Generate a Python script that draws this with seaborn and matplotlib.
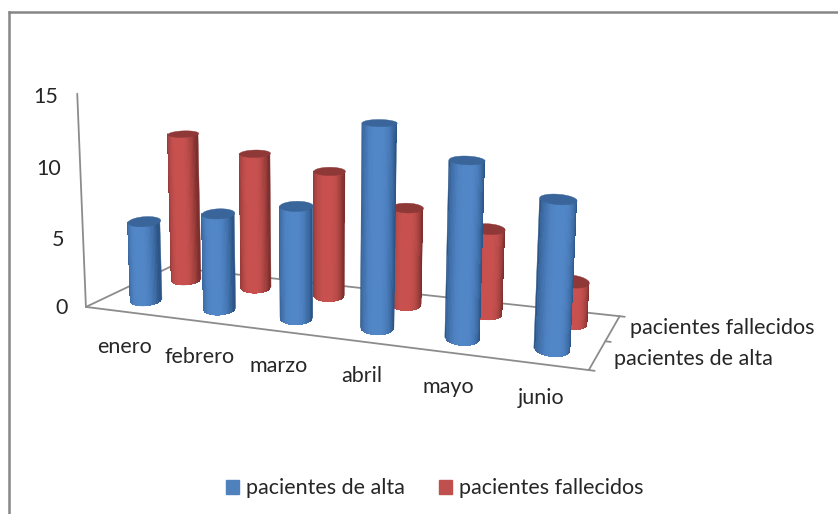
import numpy as np
import matplotlib
matplotlib.use("Agg")
import matplotlib.pyplot as plt
import seaborn as sns
from matplotlib.lines import Line2D
from matplotlib.patches import Patch
from mpl_toolkits.mplot3d import proj3d
from mpl_toolkits.mplot3d.art3d import Poly3DCollection

months = ["enero", "febrero", "marzo", "abril", "mayo", "junio"]
alta = [5.75, 6.8, 7.8, 13.75, 11.7, 9.65]
fallecidos = [11.2, 10.1, 9.2, 7.0, 6.0, 2.9]
series_names = ["pacientes de alta", "pacientes fallecidos"]
z_ticks = [0, 5, 10, 15]

sns.set_theme(style="white")
plt.rcParams["font.family"] = ["Lato", "DejaVu Sans"]

W, H = 838, 514
GRID = "#8c8c8c"
TEXT = "#262626"
FONT = 15.5
ELEV, AZIM, ROLL = 11.82, -69.07, -0.33
ASPECT = (2.4188, 0.8156, 1.03)
FOCAL = 0.394
SIDE, LEFT, BOTTOM = 569.5, 58.62, 15.5

blue_ramp = sns.blend_palette(["#2d5688", "#5287c8"], 64)
red_ramp = sns.blend_palette(["#7d2f2d", "#c95250"], 64)
blue_cap, red_cap = "#3a659a", "#8e3937"

fig = plt.figure(figsize=(W / 100, H / 100), dpi=100, facecolor="white")
ax = fig.add_axes([LEFT / W, BOTTOM / H, SIDE / W, SIDE / H],
                  projection="3d", computed_zorder=False)
ax.set_xlim(0, 6, view_margin=0)
ax.set_ylim(0, 2, view_margin=0)
ax.set_zlim(0, 15, view_margin=0)
ax.view_init(ELEV, AZIM, ROLL)
ax.set_box_aspect(ASPECT, zoom=1)
ax.set_proj_type("persp", focal_length=FOCAL)
ax.set_axis_off()
ax.patch.set_visible(False)

# column cross-section: an ellipse squared to the camera, so its caps sit level
R_SIDE, R_DEPTH = 0.077, 0.115
SX, SY = ASPECT[0] / 6, ASPECT[1] / 2
AZ = np.radians(AZIM)
RIGHT = np.array([-np.sin(AZ), np.cos(AZ)])
TOWARD = np.array([np.cos(AZ), np.sin(AZ)])


def section(xc, yc, side, depth):
    x = xc + (R_SIDE * side * RIGHT[0] + R_DEPTH * depth * TOWARD[0]) / SX
    y = yc + (R_SIDE * side * RIGHT[1] + R_DEPTH * depth * TOWARD[1]) / SY
    return x, y


def wall(xc, yc, height, across):
    x, y = section(xc, yc, across, np.sqrt(1 - across ** 2))
    X, Y = np.tile(x, (2, 1)), np.tile(y, (2, 1))
    Z = np.vstack([np.zeros_like(x), np.full_like(x, height)])
    return X, Y, Z


def cylinder(xc, yc, height, ramp, cap, order):
    # an opaque smooth-edged silhouette first, then the shaded strips on top of it
    X, Y, Z = wall(xc, yc, height, np.linspace(-1, 1, 25))
    ax.plot_surface(X, Y, Z, color=ramp[0], shade=False, rstride=1, cstride=1,
                    linewidth=0.3, edgecolor=ramp[0], antialiased=True, zorder=order)
    # strips of equal on-screen width, brightest slightly left of the middle
    across = np.linspace(-0.96, 0.96, 29)
    X, Y, Z = wall(xc, yc, height, across)
    level = np.clip(1 - np.abs(across + 0.12) ** 2.6, 0, 1)
    shades = np.array(ramp)[(level * (len(ramp) - 1)).astype(int)]
    face = np.dstack([np.tile(shades[:, c], (2, 1)) for c in range(3)])
    ax.plot_surface(X, Y, Z, facecolors=face, rstride=1, cstride=1, shade=False,
                    linewidth=0, antialiased=False, zorder=order + 0.2)
    rim = np.linspace(0, 2 * np.pi, 73)
    x, y = section(xc, yc, np.cos(rim), np.sin(rim))
    top = Poly3DCollection([list(zip(x, y, np.full_like(rim, height)))],
                           facecolors=cap, edgecolors=cap, linewidths=0.3,
                           zorder=order + 0.5)
    ax.add_collection3d(top)


def label(x, y, z, text, ha):
    # place flat text at the screen position of a point in data space
    u, v, _ = proj3d.proj_transform(x, y, z, ax.get_proj())
    ax.text2D(u, v, text, ha=ha, va="center", fontsize=FONT, color=TEXT)


# floor outline, value axis and depth ticks
edges = [((0, 6), (0, 0), (0, 0)), ((6, 6), (0, 2), (0, 0)), ((0, 6), (2, 2), (0, 0)),
         ((0, 0), (0, 2), (0, 0)), ((0, 0), (0, 0), (0, 15)),
         ((6, 6.06), (0, 0), (0, 0)), ((6, 6.06), (1, 1), (0, 0)), ((6, 6.06), (2, 2), (0, 0))]
for xs, ys, zs in edges:
    ax.plot(xs, ys, zs, color=GRID, lw=1.3, zorder=1)

for i, value in enumerate(fallecidos):
    cylinder(i + 0.5, 1.55, value, red_ramp, red_cap, 2)
for i, value in enumerate(alta):
    cylinder(i + 0.5, 0.55, value, blue_ramp, blue_cap, 4)

for tick in z_ticks:
    label(-0.26, 0, tick - 0.28, str(tick), "right")
for i, name in enumerate(months):
    label(i + 0.52, 0, -2.6 + 0.08 * i, name, "center")
for y_pos, name in zip((0.45, 1.58), series_names):
    label(6.18, y_pos, 0, name, "left")

fig.legend(handles=[Patch(color="#4f81bd", label=series_names[0]),
                    Patch(color="#c0504d", label=series_names[1])],
           loc="center", bbox_to_anchor=(434.5 / W, 1 - 488.5 / H), ncol=2, frameon=False,
           fontsize=FONT, labelcolor=TEXT, handlelength=0.6, handleheight=0.6,
           handletextpad=0.33, columnspacing=1.58)

# chart-area border: only its top and left edges fall inside the image
fig.add_artist(Line2D([9 / W, 9 / W], [0, 1 - 12 / H], color="#868686", lw=1.8,
                      transform=fig.transFigure, solid_capstyle="projecting"))
fig.add_artist(Line2D([9 / W, 1], [1 - 12 / H, 1 - 12 / H], color="#868686", lw=1.8,
                      transform=fig.transFigure))

fig.savefig("out.png", dpi=100, facecolor="white")
